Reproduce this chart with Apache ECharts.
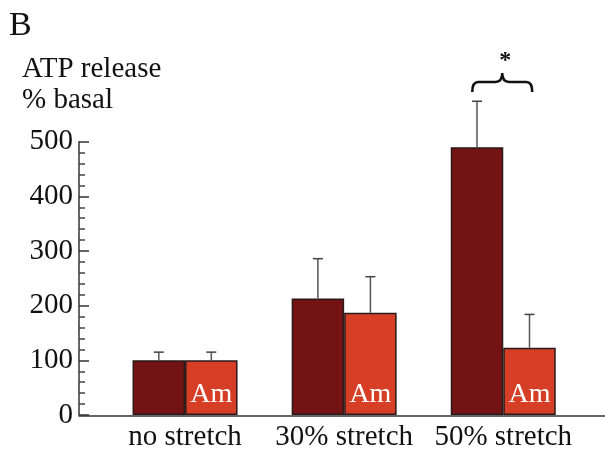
<!DOCTYPE html>
<html>
<head>
<meta charset="utf-8">
<script src="https://cdn.jsdelivr.net/npm/echarts@6/dist/echarts.min.js"></script>
<style>html,body{margin:0;padding:0;background:#fff}#c{width:605px;height:452px}</style>
</head>
<body>
<div id="c"></div>
<script>
const categories = ['no stretch', '30% stretch', '50% stretch'];
const controlValues = [100, 213, 490];
const controlErrors = [15, 73, 84];
const amValues = [100, 187, 123];
const amErrors = [15, 66, 61];
const amLabel = 'Am';
const yTicks = [0, 100, 200, 300, 400, 500];
const sigGroup = 2;
const sigBraceValue = 591;
const sigMark = '*';

const FONT = '"Liberation Serif", "Times New Roman", serif';
const BAR_W = 52.5;
const DARK = '#741314';
const RED = '#d63f26';

const chart = echarts.init(document.getElementById('c'), null, {renderer: 'canvas'});

function errSeries(values, errors, side) {
  return {
    type: 'custom',
    xAxisIndex: 0, yAxisIndex: 0,
    clip: false,
    z: 5,
    data: values.map((v, i) => [i, v, v + errors[i]]),
    renderItem: function (params, api) {
      const base = api.coord([api.value(0), api.value(1)]);
      const top = api.coord([api.value(0), api.value(2)]);
      const x = base[0] + side * BAR_W / 2;
      const cap = 5;
      return {
        type: 'group',
        children: [
          {type: 'line', shape: {x1: x, y1: base[1], x2: x, y2: top[1]}, style: {stroke: '#555', lineWidth: 1.5}},
          {type: 'line', shape: {x1: x - cap, y1: top[1], x2: x + cap, y2: top[1]}, style: {stroke: '#444', lineWidth: 1.5}}
        ]
      };
    }
  };
}

const option = {
  backgroundColor: '#fff',
  animation: false,
  grid: [
    {left: 105.5, right: 22.2, top: 141.7, bottom: 36.3, containLabel: false},
    {left: 79, right: 0, top: 141.7, bottom: 36.3, containLabel: false}
  ],
  graphic: [
    {type: 'text', left: 9, top: 9, style: {text: 'B', font: '34px ' + FONT, fill: '#111'}},
    {type: 'text', left: 22, top: 55, style: {text: 'ATP release', font: '29px ' + FONT, fill: '#111'}},
    {type: 'text', left: 22, top: 86, style: {text: '% basal', font: '29px ' + FONT, fill: '#111'}}
  ],
  xAxis: [
    {
      type: 'category', gridIndex: 0, data: categories,
      axisLine: {show: false}, axisTick: {show: false},
      axisLabel: {interval: 0, margin: 8, fontFamily: FONT, fontSize: 29, color: '#111'}
    },
    {
      type: 'value', gridIndex: 1, min: 0, max: 1,
      axisLine: {show: true, lineStyle: {color: '#333', width: 1.5}},
      axisTick: {show: false}, axisLabel: {show: false}, splitLine: {show: false}
    }
  ],
  yAxis: [
    {
      type: 'value', gridIndex: 0, min: yTicks[0], max: yTicks[yTicks.length - 1], interval: 100,
      offset: 26.5,
      axisLine: {show: true, lineStyle: {color: '#333', width: 1.5}},
      axisTick: {show: true, inside: true, length: 10, lineStyle: {color: '#333', width: 1.5}},
      minorTick: {show: true, splitNumber: 5, length: 6, lineStyle: {color: '#444', width: 1.5}},
      splitLine: {show: false},
      axisLabel: {margin: 6, fontFamily: FONT, fontSize: 29, color: '#111'}
    },
    {
      type: 'value', gridIndex: 1, min: 0, max: 1, show: false
    }
  ],
  series: [
    {
      type: 'bar', xAxisIndex: 0, yAxisIndex: 0, data: controlValues,
      barWidth: BAR_W, barGap: '0%',
      itemStyle: {color: DARK, borderColor: '#2a1a1a', borderWidth: 1.5}
    },
    {
      type: 'bar', xAxisIndex: 0, yAxisIndex: 0, data: amValues,
      barWidth: BAR_W, barGap: '0%',
      itemStyle: {color: RED, borderColor: '#2a1a1a', borderWidth: 1.5},
      label: {show: true, position: 'insideBottom', distance: 6, formatter: amLabel,
              fontFamily: FONT, fontSize: 28, color: '#fff'}
    },
    errSeries(controlValues, controlErrors, -1),
    errSeries(amValues, amErrors, 1),
    {
      type: 'custom', xAxisIndex: 0, yAxisIndex: 0, clip: false, z: 6,
      data: [[sigGroup, sigBraceValue]],
      renderItem: function (params, api) {
        const p = api.coord([api.value(0), api.value(1)]);
        const cx = p[0] - 1, yb = p[1], ym = yb - 10, yt = yb - 19, w = 30;
        const path = 'M' + (cx - w) + ' ' + yb +
          ' Q' + (cx - w) + ' ' + ym + ' ' + (cx - w + 6) + ' ' + ym +
          ' L' + (cx - 7) + ' ' + ym +
          ' Q' + cx + ' ' + ym + ' ' + cx + ' ' + yt +
          ' Q' + cx + ' ' + ym + ' ' + (cx + 7) + ' ' + ym +
          ' L' + (cx + w - 6) + ' ' + ym +
          ' Q' + (cx + w) + ' ' + ym + ' ' + (cx + w) + ' ' + yb;
        return {
          type: 'group',
          children: [
            {type: 'path', shape: {pathData: path}, style: {stroke: '#111', lineWidth: 2.5, fill: null}},
            {type: 'text', x: cx + 3, y: yt - 12, style: {text: sigMark, font: 'bold 24px ' + FONT, fill: '#111', align: 'center', verticalAlign: 'middle'}}
          ]
        };
      }
    }
  ]
};
chart.setOption(option);
</script>
</body>
</html>
